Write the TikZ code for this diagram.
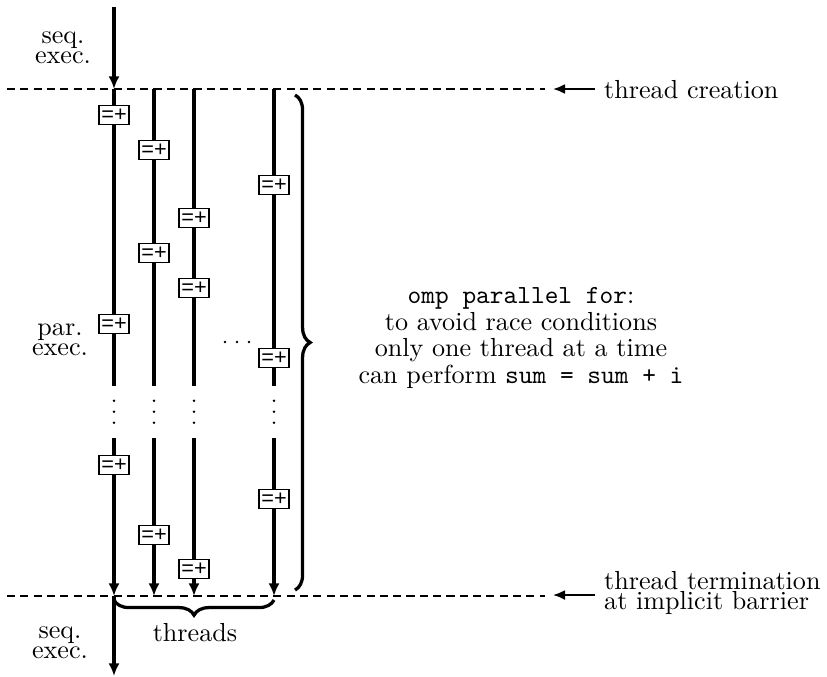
\documentclass[tikz,border=0pt]{standalone}
\usepackage{fontspec}
\newfontfamily\boxfont{Liberation Sans}
\usetikzlibrary{arrows.meta,decorations.pathreplacing}
\begin{document}
\begin{tikzpicture}[x=0.383pt,y=-0.383pt,
  thr/.style={line width=1.25pt},
  arr/.style={-{Latex[length=4.8pt,width=4.2pt]}},
  thinarr/.style={line width=0.7pt,-{Latex[length=4.6pt,width=3.8pt]}},
  sepline/.style={line width=0.55pt,dash pattern=on 3.1pt off 2pt},
  opbox/.style={draw,fill=white,line width=0.6pt,inner sep=0pt,minimum width=11.6pt,minimum height=7.3pt,font=\boxfont\fontsize{8.3}{8.5}\selectfont},
  lbl/.style={align=center,font=\fontsize{10}{7.8}\selectfont,inner sep=0pt},
  rlbl/.style={align=left,font=\fontsize{10}{7.8}\selectfont,anchor=west},
  brc/.style={line width=1.25pt,decorate,decoration={brace,amplitude=5.8pt}},
  dot/.style={circle,fill=black,inner sep=0pt,minimum size=1.1pt}]
\useasboundingbox (0,0) rectangle (827,676);

% separator lines
\coordinate (dl1) at (7,89);
\coordinate (dr1) at (545,89);
\coordinate (dl2) at (7,596);
\coordinate (dr2) at (545,596);
\draw[sepline] (dl1) -- (dr1);
\draw[sepline] (dl2) -- (dr2);

% thread coordinates
\foreach \n/\x in {a/114,b/154,c/194,d/274}{
  \coordinate (\n top) at (\x,89);
  \coordinate (\n brk1) at (\x,386);
  \coordinate (\n brk2) at (\x,438);
  \coordinate (\n end) at (\x,596);
}
\coordinate (start) at (114,7);
\coordinate (final) at (114,676);

\draw[thr,arr] (start) -- (atop);
\draw[thr,arr] (aend) -- (final);
\foreach \n in {a,b,c,d}{
  \draw[thr] (\n top) -- (\n brk1);
  \draw[thr,arr] (\n brk2) -- (\n end);
}

% vertical dots
\foreach \n/\x in {a/114,b/154,c/194,d/274}{
  \foreach \y [count=\i] in {400.7,411.7,422.7}{
    \node[dot] (vd\n\i) at (\x,\y) {};
  }
}
% horizontal dots
\foreach \x [count=\i] in {225,237,249}{
  \node[dot] (hd\i) at (\x,342) {};
}

% =+ boxes
\foreach \n/\x/\ya/\yb/\yc in {a/114/115/324/465,b/154/150/253/535,c/194/218/288/569,d/274/185/358/499}{
  \node[opbox] (\n op1) at (\x,\ya) {=+};
  \node[opbox] (\n op2) at (\x,\yb) {=+};
  \node[opbox] (\n op3) at (\x,\yc) {=+};
}

% braces
\coordinate (rb1) at (295,95);
\coordinate (rb2) at (295,590);
\draw[brc] (rb1) -- (rb2);
\coordinate (bb1) at (274,600);
\coordinate (bb2) at (114,600);
\draw[brc] (bb1) -- (bb2);

% labels
\node[lbl] (seq1) at (63,48) {seq.\\exec.};
\node[lbl] (par) at (60,340) {par.\\exec.};
\node[lbl] (seq2) at (60,643) {seq.\\exec.};
\node[font=\fontsize{10}{12}\selectfont] (threads) at (195,633) {threads};

\node[rlbl] (tc) at (595,90) {thread creation};
\coordinate (tcend) at (553,89);
\draw[thinarr] (tc.west |- tcend) -- (tcend);

\node[rlbl] (tt) at (595,593) {thread termination\\at implicit barrier};
\coordinate (ttend) at (553,595);
\draw[thinarr] (tt.west |- ttend) -- (ttend);

\node[align=center,font=\fontsize{10}{10.1}\selectfont] (info) at (521,338)
  {\texttt{omp parallel for}:\\to avoid race conditions\\only one thread at a time\\can perform \texttt{sum = sum + i}};
\end{tikzpicture}
\end{document}
